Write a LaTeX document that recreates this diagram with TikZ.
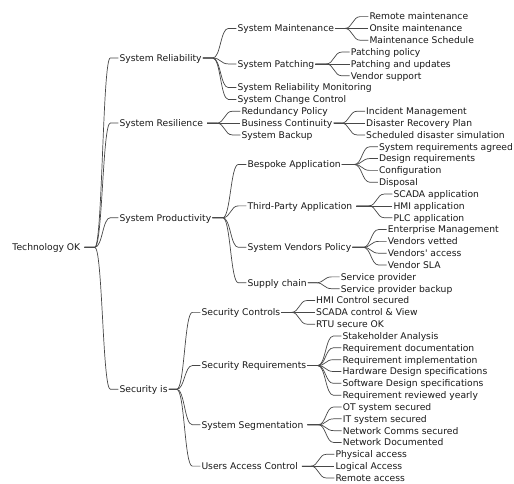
\documentclass[tikz,border=0pt]{standalone}
\usepackage{fontspec}
\newfontfamily\mmfont{DejaVu Sans}
\usetikzlibrary{calc}
\newcommand\Y[1]{-16.6-11.83*(#1)}
\newcommand\tsp{\kern2.9pt}
\tikzset{
  mmtxt/.style={anchor=west, inner xsep=1pt, inner ysep=0pt,
    font=\mmfont\fontsize{9.2}{11}\selectfont, text height=6.7pt, text depth=0pt, text=black!90},
  mm/.style={draw=black!72, line width=0.7pt,
    to path={let \p1=(\tikztostart), \p2=(\tikztotarget),
      \n1={\x2-23.5pt}, \n2={\x2-8pt}, \n3={\x2-15.75pt} in
      -- (\n1,\y1) .. controls (\n3,\y1) and (\n3,\y2) .. (\n2,\y2) -- (\p2)}}
}
\begin{document}
\begin{tikzpicture}[x=1pt,y=1pt]
\useasboundingbox (0,0) rectangle (514,-483);
\fill[white] (0,0) rectangle (514,-483);
% root and level 1
\node[mmtxt] (root) at (11.3,{\Y{19.5}}) {Technology OK\tsp};
\node[mmtxt] (r1) at (118.3,{\Y{3.5}}) {System Reliability};
\node[mmtxt] (r2) at (118.3,{\Y{9}}) {System Resilience\tsp};
\node[mmtxt] (r3) at (118.3,{\Y{17}}) {System Productivity};
\node[mmtxt] (r4) at (118.3,{\Y{31.5}}) {Security is};
% reliability
\node[mmtxt] (a1) at (236.3,{\Y{1}}) {System Maintenance};
\node[mmtxt] (a2) at (236.3,{\Y{4}}) {System Patching};
\node[mmtxt] (a3) at (236.3,{\Y{6}}) {System Reliability Monitoring};
\node[mmtxt] (a4) at (236.3,{\Y{7}}) {System Change Control};
\node[mmtxt] (a11) at (368.3,{\Y{0}}) {Remote maintenance};
\node[mmtxt] (a12) at (368.3,{\Y{1}}) {Onsite maintenance};
\node[mmtxt] (a13) at (368.3,{\Y{2}}) {Maintenance Schedule};
\node[mmtxt] (a21) at (349.7,{\Y{3}}) {Patching policy};
\node[mmtxt] (a22) at (349.7,{\Y{4}}) {Patching and updates};
\node[mmtxt] (a23) at (349.7,{\Y{5}}) {Vendor support};
% resilience
\node[mmtxt] (b1) at (240.3,{\Y{8}}) {Redundancy Policy};
\node[mmtxt] (b2) at (240.3,{\Y{9}}) {Business Continuity};
\node[mmtxt] (b3) at (240.3,{\Y{10}}) {System Backup};
\node[mmtxt] (b21) at (365,{\Y{8}}) {Incident Management};
\node[mmtxt] (b22) at (365,{\Y{9}}) {Disaster Recovery Plan};
\node[mmtxt] (b23) at (365,{\Y{10}}) {Scheduled disaster simulation};
% productivity
\node[mmtxt] (c1) at (246.3,{\Y{12.5}}) {Bespoke Application};
\node[mmtxt] (c2) at (246.3,{\Y{16}}) {Third-Party Application\tsp};
\node[mmtxt] (c3) at (246.3,{\Y{19.5}}) {System Vendors Policy};
\node[mmtxt] (c4) at (246.3,{\Y{22.5}}) {Supply chain};
\node[mmtxt] (c11) at (377.8,{\Y{11}}) {System requirements agreed};
\node[mmtxt] (c12) at (377.8,{\Y{12}}) {Design requirements};
\node[mmtxt] (c13) at (377.8,{\Y{13}}) {Configuration};
\node[mmtxt] (c14) at (377.8,{\Y{14}}) {Disposal};
\node[mmtxt] (c21) at (392.3,{\Y{15}}) {SCADA application};
\node[mmtxt] (c22) at (392.3,{\Y{16}}) {HMI application};
\node[mmtxt] (c23) at (392.3,{\Y{17}}) {PLC application};
\node[mmtxt] (c31) at (386.7,{\Y{18}}) {Enterprise Management};
\node[mmtxt] (c32) at (386.7,{\Y{19}}) {Vendors vetted};
\node[mmtxt] (c33) at (386.7,{\Y{20}}) {Vendors' access};
\node[mmtxt] (c34) at (386.7,{\Y{21}}) {Vendor SLA};
\node[mmtxt] (c41) at (339.7,{\Y{22}}) {Service provider};
\node[mmtxt] (c42) at (339.7,{\Y{23}}) {Service provider backup};
% security
\node[mmtxt] (d1) at (200.3,{\Y{25}}) {Security Controls};
\node[mmtxt] (d2) at (200.3,{\Y{29.5}}) {Security Requirements};
\node[mmtxt] (d3) at (200.3,{\Y{34.5}}) {System Segmentation\tsp};
\node[mmtxt] (d4) at (200.3,{\Y{38}}) {Users Access Control\tsp};
\node[mmtxt] (d11) at (315,{\Y{24}}) {HMI Control secured};
\node[mmtxt] (d12) at (315,{\Y{25}}) {SCADA control \& View};
\node[mmtxt] (d13) at (315,{\Y{26}}) {RTU secure OK};
\node[mmtxt] (d21) at (341.3,{\Y{27}}) {Stakeholder Analysis};
\node[mmtxt] (d22) at (341.3,{\Y{28}}) {Requirement documentation};
\node[mmtxt] (d23) at (341.3,{\Y{29}}) {Requirement implementation};
\node[mmtxt] (d24) at (341.3,{\Y{30}}) {Hardware Design specifications};
\node[mmtxt] (d25) at (341.3,{\Y{31}}) {Software Design specifications};
\node[mmtxt] (d26) at (341.3,{\Y{32}}) {Requirement reviewed yearly};
\node[mmtxt] (d31) at (341.7,{\Y{33}}) {OT system secured};
\node[mmtxt] (d32) at (341.7,{\Y{34}}) {IT system secured};
\node[mmtxt] (d33) at (341.7,{\Y{35}}) {Network Comms secured};
\node[mmtxt] (d34) at (341.7,{\Y{36}}) {Network Documented};
\node[mmtxt] (d41) at (334.3,{\Y{37}}) {Physical access};
\node[mmtxt] (d42) at (334.3,{\Y{38}}) {Logical Access};
\node[mmtxt] (d43) at (334.3,{\Y{39}}) {Remote access};
% connectors
\foreach \c in {r1,r2,r3,r4} \draw[mm] (root.east) to (\c.west);
\foreach \c in {a1,a2,a3,a4} \draw[mm] (r1.east) to (\c.west);
\foreach \c in {a11,a12,a13} \draw[mm] (a1.east) to (\c.west);
\foreach \c in {a21,a22,a23} \draw[mm] (a2.east) to (\c.west);
\foreach \c in {b1,b2,b3} \draw[mm] (r2.east) to (\c.west);
\foreach \c in {b21,b22,b23} \draw[mm] (b2.east) to (\c.west);
\foreach \c in {c1,c2,c3,c4} \draw[mm] (r3.east) to (\c.west);
\foreach \c in {c11,c12,c13,c14} \draw[mm] (c1.east) to (\c.west);
\foreach \c in {c21,c22,c23} \draw[mm] (c2.east) to (\c.west);
\foreach \c in {c31,c32,c33,c34} \draw[mm] (c3.east) to (\c.west);
\foreach \c in {c41,c42} \draw[mm] (c4.east) to (\c.west);
\foreach \c in {d1,d2,d3,d4} \draw[mm] (r4.east) to (\c.west);
\foreach \c in {d11,d12,d13} \draw[mm] (d1.east) to (\c.west);
\foreach \c in {d21,d22,d23,d24,d25,d26} \draw[mm] (d2.east) to (\c.west);
\foreach \c in {d31,d32,d33,d34} \draw[mm] (d3.east) to (\c.west);
\foreach \c in {d41,d42,d43} \draw[mm] (d4.east) to (\c.west);
\end{tikzpicture}
\end{document}
